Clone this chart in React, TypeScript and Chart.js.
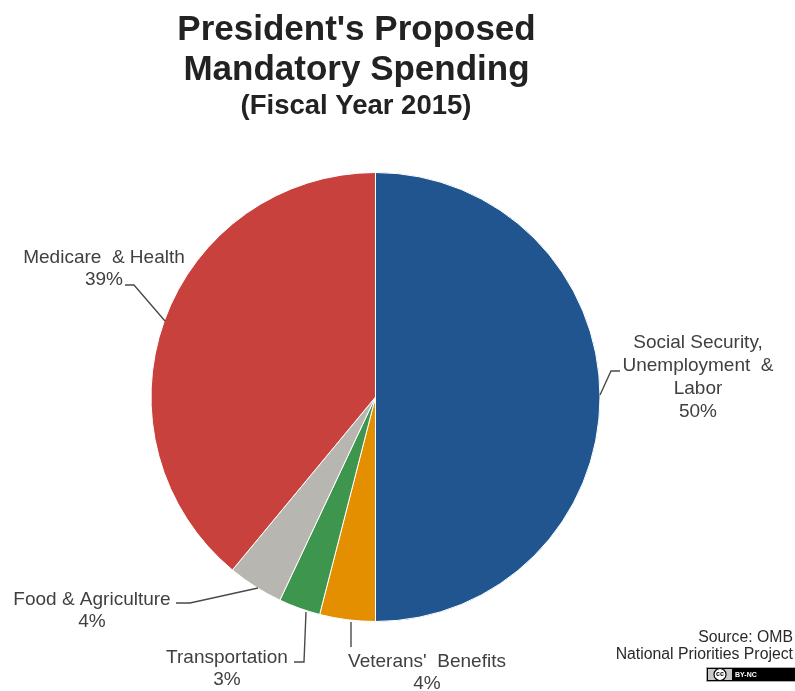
import React, { useEffect, useRef } from "react";
import { Chart, registerables } from "chart.js";

Chart.register(...registerables);

const categories = ["Social Security, Unemployment & Labor", "Veterans' Benefits", "Transportation", "Food & Agriculture", "Medicare & Health"];
const shares = [50, 4, 3, 4, 39];
const sliceColors = ["#20558f", "#e38f00", "#3e954d", "#b7b6b1", "#c9413d"];
const titleLines = ["President's Proposed", "Mandatory Spending"];
const subtitleLine = "(Fiscal Year 2015)";
const sourceLines = ["Source: OMB", "National Priorities Project"];

// Label text lines for each slice, with the text anchor and the leader's elbow.
const calloutLines = [
  ["Social Security,", "Unemployment  &", "Labor", "50%"],
  ["Veterans'  Benefits", "4%"],
  ["Transportation", "3%"],
  ["Food & Agriculture", "4%"],
  ["Medicare  & Health", "39%"],
];
const calloutCentres = [
  [698, 343],
  [427, 662],
  [227, 658],
  [92, 600],
  [104, 258],
];
const calloutLineHeights = [23, 22, 22, 22, 22];
const leaderPaths = [
  [[600, 395], [611, 371], [620, 371]],
  [[351, 622], [351, 647]],
  [[306, 612], [304, 662], [294, 662]],
  [[258, 588], [190, 603], [176, 603]],
  [[165, 321], [134, 285], [125, 285]],
];

const TEXT = "#404040";
const FONT = '"Liberation Sans", Arial, sans-serif';

const calloutPlugin = {
  id: "callouts",
  afterDatasetsDraw(chart: Chart) {
    const { ctx } = chart;
    ctx.save();

    // Heading
    ctx.fillStyle = "#222222";
    ctx.textAlign = "center";
    ctx.textBaseline = "middle";
    ctx.font = `bold 35px ${FONT}`;
    ctx.fillText(titleLines[0], 356.5, 30);
    ctx.fillText(titleLines[1], 356.5, 70);
    ctx.font = `bold 27.5px ${FONT}`;
    ctx.fillText(subtitleLine, 356, 106);

    ctx.strokeStyle = "#4a4a4a";
    ctx.lineWidth = 1.4;
    leaderPaths.forEach((path) => {
      ctx.beginPath();
      path.forEach(([x, y], i) => (i ? ctx.lineTo(x, y) : ctx.moveTo(x, y)));
      ctx.stroke();
    });

    ctx.fillStyle = TEXT;
    ctx.font = `19px ${FONT}`;
    calloutLines.forEach((lines, i) => {
      const [cx, top] = calloutCentres[i];
      lines.forEach((line, j) => ctx.fillText(line, cx, top + j * calloutLineHeights[i]));
    });

    // Attribution block in the lower right corner
    ctx.fillStyle = "#2a2a2a";
    ctx.font = `15.8px ${FONT}`;
    ctx.textAlign = "right";
    ctx.fillText(sourceLines[0], 793, 638);
    ctx.fillText(sourceLines[1], 793, 655);

    // Licence badge
    ctx.fillStyle = "#aaaaaa";
    ctx.fillRect(706, 667, 89, 15);
    ctx.fillStyle = "#000000";
    ctx.fillRect(707, 668, 88, 13);
    ctx.fillStyle = "#c8c8c8";
    ctx.fillRect(708, 669, 24, 11);
    ctx.fillStyle = "#ffffff";
    ctx.beginPath();
    ctx.arc(720, 674.5, 6, 0, Math.PI * 2);
    ctx.fill();
    ctx.strokeStyle = "#000000";
    ctx.lineWidth = 1.2;
    ctx.stroke();
    ctx.fillStyle = "#000000";
    ctx.font = `bold 7px ${FONT}`;
    ctx.textAlign = "center";
    ctx.fillText("cc", 720, 674.5);
    ctx.fillStyle = "#ffffff";
    ctx.textAlign = "left";
    ctx.fillText("BY-NC", 735, 675);
    ctx.restore();
  },
};

export default function App() {
  const ref = useRef<HTMLCanvasElement>(null);

  useEffect(() => {
    const chart = new Chart(ref.current!, {
      type: "pie",
      data: {
        labels: categories,
        datasets: [
          {
            data: shares,
            backgroundColor: sliceColors,
            borderColor: "#ffffff",
            borderWidth: 1,
          },
        ],
      },
      options: {
        animation: false,
        responsive: false,
        layout: { padding: { left: 150.5, right: 194.5, bottom: 69, top: 172 } },
        plugins: {
          legend: { display: false },
          tooltip: { enabled: false },
        },
      },
      plugins: [calloutPlugin],
    });
    return () => chart.destroy();
  }, []);

  return (
    <canvas
      ref={ref}
      width={795}
      height={691}
      style={{ position: "fixed", left: 0, top: 0, width: 795, height: 691, background: "#ffffff" }}
    />
  );
}
